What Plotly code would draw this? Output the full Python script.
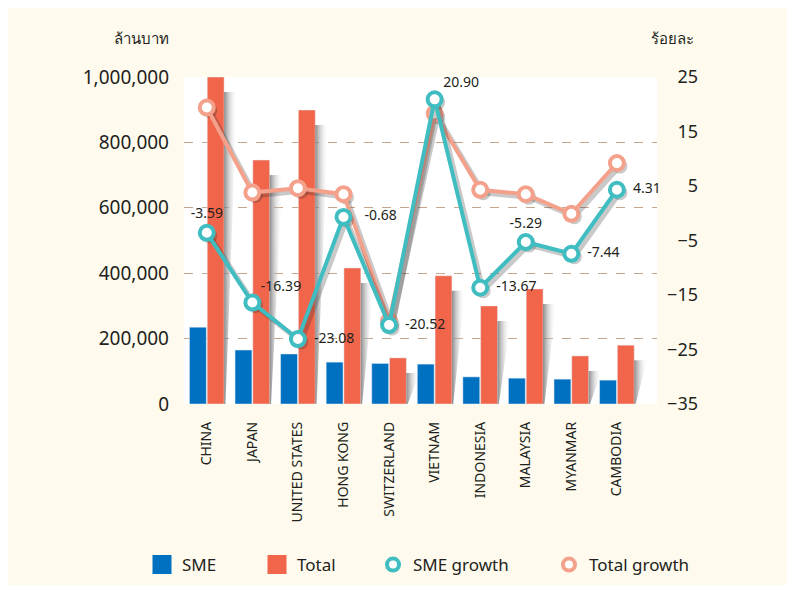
import plotly.graph_objects as go

countries = ["CHINA", "JAPAN", "UNITED STATES", "HONG KONG", "SWITZERLAND",
             "VIETNAM", "INDONESIA", "MALAYSIA", "MYANMAR", "CAMBODIA"]
sme_value = [235000, 165000, 153000, 128000, 124000, 122000, 83000, 79000, 76000, 73000]
total_value = [1000000, 746000, 899000, 416000, 141000, 392000, 300000, 352000, 147000, 180000]
sme_growth = [-3.59, -16.39, -23.08, -0.68, -20.52, 20.90, -13.67, -5.29, -7.44, 4.31]
total_growth = [19.4, 3.8, 4.6, 3.5, -19.8, 18.3, 4.3, 3.5, -0.1, 9.2]

left_ticks = [0, 200000, 400000, 600000, 800000, 1000000]
left_ticktext = ["0", "200,000", "400,000", "600,000", "800,000", "1,000,000"]
right_ticks = [-35, -25, -15, -5, 5, 15, 25]
sme_label_pos = ["top center", "top right", "middle right", "middle right", "middle right",
                 "top right", "middle right", "top center", "middle right", "middle right"]
sme_label_gap = [16, 12, 24, 32, 24, 12, 24, 16, 24, 24]

C_SME = "#0070C0"
C_TOTAL = "#F1654A"
C_SMEG = "#3FBDC1"
C_TOTG = "#F4A18C"
TXT = "#231F20"
FONT = "Noto Sans"

# ---- geometry helpers (screen px of the reference -> paper coords) ----
# the page body adds 8px margin, so the figure is 8px smaller than the window
PAGE_OFF = 8
FIG_W, FIG_H = 795 - PAGE_OFF, 590 - PAGE_OFF
PL, PR_PAPER, PT, PB = 184, 700, 77, 404          # screen px
W = PR_PAPER - PL
H = PB - PT
def px_x(p):
    return (p - PL) / W
def px_y(p):
    return (PB - p) / H

xi = list(range(len(countries)))
BARGAP, GROUPGAP = 0.22, 0.05
slot = (1 - BARGAP) / 2
px_per_cat = (657 - PL) / 10.38
px_per_left = H / 1000000
px_per_right = H / 60

fig = go.Figure()

# bar drop shadows (decorative, derived from the Total values)
sh_top = 15 / px_per_left
sh_w = 13 / px_per_cat
for i, t in zip(xi, total_value):
    r = i + slot * (1 - GROUPGAP / 2)
    fig.add_trace(go.Scatter(
        x=[r, r + sh_w, r + 0.03, r, r], y=[t - sh_top, t - sh_top, 0, 0, t - sh_top],
        mode="lines", line=dict(width=0), fill="toself",
        fillgradient=dict(type="horizontal",
                          colorscale=[[0, "rgba(110,110,110,0.8)"], [1, "rgba(255,255,255,0)"]]),
        showlegend=False, hoverinfo="skip"))

fig.add_trace(go.Bar(x=xi, y=sme_value, marker_color=C_SME, name="SME", showlegend=False))
fig.add_trace(go.Bar(x=xi, y=total_value, marker_color=C_TOTAL, name="Total", showlegend=False))

dx_sh = 3 / px_per_cat
dy_sh = 3 / px_per_right
SH = "rgba(40,40,40,0.25)"
for vals, col in [(total_growth, C_TOTG), (sme_growth, C_SMEG)]:
    fig.add_trace(go.Scatter(x=[v + dx_sh for v in xi], y=[v - dy_sh for v in vals], yaxis="y2",
                             mode="lines+markers", line=dict(color=SH, width=5),
                             marker=dict(size=15, color=SH, line=dict(width=0)),
                             showlegend=False, hoverinfo="skip", cliponaxis=False))
    fig.add_trace(go.Scatter(x=xi, y=vals, yaxis="y2", mode="lines+markers",
                             line=dict(color=col, width=4),
                             marker=dict(size=14, color="white", line=dict(color=col, width=4)),
                             showlegend=False, cliponaxis=False))

# data labels for SME growth (invisible markers set the label offset)
fig.add_trace(go.Scatter(x=xi, y=sme_growth, yaxis="y2", mode="markers+text",
                         marker=dict(size=sme_label_gap, opacity=0),
                         text=[f"{v:.2f}" for v in sme_growth], textposition=sme_label_pos,
                         textfont=dict(size=14, color=TXT, family=FONT),
                         showlegend=False, cliponaxis=False, hoverinfo="skip"))

# legend-only entries
legend_defs = [("SME", "square", C_SME, "legend", 142),
               ("Total", "square", C_TOTAL, "legend2", 257),
               ("SME growth", "circle", C_SMEG, "legend3", 373),
               ("Total growth", "circle", C_TOTG, "legend4", 549)]
for name, sym, col, lg, _ in legend_defs:
    if sym == "square":
        mk = dict(symbol="square", size=16, color=col, line=dict(color=col, width=3))
    else:
        mk = dict(symbol="circle", size=12, color="white", line=dict(color=col, width=4))
    fig.add_trace(go.Scatter(x=[None], y=[None], mode="markers", marker=mk, name=name,
                             legend=lg, showlegend=True))

leg_common = dict(orientation="h", yanchor="middle", y=px_y(565), xanchor="left",
                  font=dict(size=17, color=TXT, family=FONT), bgcolor="rgba(0,0,0,0)",
                  itemsizing="trace")
legends = {lg: dict(x=px_x(lx), **leg_common) for _, _, _, lg, lx in legend_defs}

fig.update_layout(
    width=FIG_W, height=FIG_H,
    margin=dict(l=PL - PAGE_OFF, r=FIG_W - (PR_PAPER - PAGE_OFF), t=PT - PAGE_OFF,
                b=FIG_H - (PB - PAGE_OFF), autoexpand=False),
    paper_bgcolor="#FEFBEE", plot_bgcolor="white",
    font=dict(family=FONT, color=TXT),
    barmode="group", bargap=BARGAP, bargroupgap=GROUPGAP,
    xaxis=dict(domain=[0, px_x(657)], range=[-0.5, 9.88], tickangle=-90,
               tickvals=xi, ticktext=countries,
               tickfont=dict(size=14, color=TXT), ticks="", showline=False,
               showgrid=False, zeroline=False, ticklabelstandoff=14, automargin=False),
    yaxis=dict(range=[0, 1000000], tickvals=left_ticks, ticktext=left_ticktext,
               tickfont=dict(size=19, color=TXT), showgrid=True, griddash="dash",
               gridcolor="#C4A68E", gridwidth=1, zeroline=False, ticks="",
               ticklabelstandoff=14, automargin=False),
    yaxis2=dict(range=[-35, 25], tickvals=right_ticks, overlaying="y", side="left",
                anchor="free", position=1.0,
                tickfont=dict(size=18, color=TXT), showgrid=False, zeroline=False,
                ticks="", showline=False, automargin=False, ticklabelstandoff=2),
    annotations=[
        dict(text="ล้านบาท", xref="paper", yref="paper", x=px_x(171), y=px_y(38),
             xanchor="right", yanchor="middle", showarrow=False,
             font=dict(size=15, color=TXT, family=FONT)),
        dict(text="ร้อยละ", xref="paper", yref="paper", x=px_x(696), y=px_y(38),
             xanchor="right", yanchor="middle", showarrow=False,
             font=dict(size=15, color=TXT, family=FONT)),
    ],
    shapes=[
        dict(type="rect", xref="paper", yref="paper", x0=px_x(0), x1=px_x(795),
             y0=px_y(590), y1=px_y(0), line=dict(color="white", width=10),
             fillcolor="rgba(0,0,0,0)", layer="below"),
    ],
    **legends,
)

fig.write_html("out.html")
